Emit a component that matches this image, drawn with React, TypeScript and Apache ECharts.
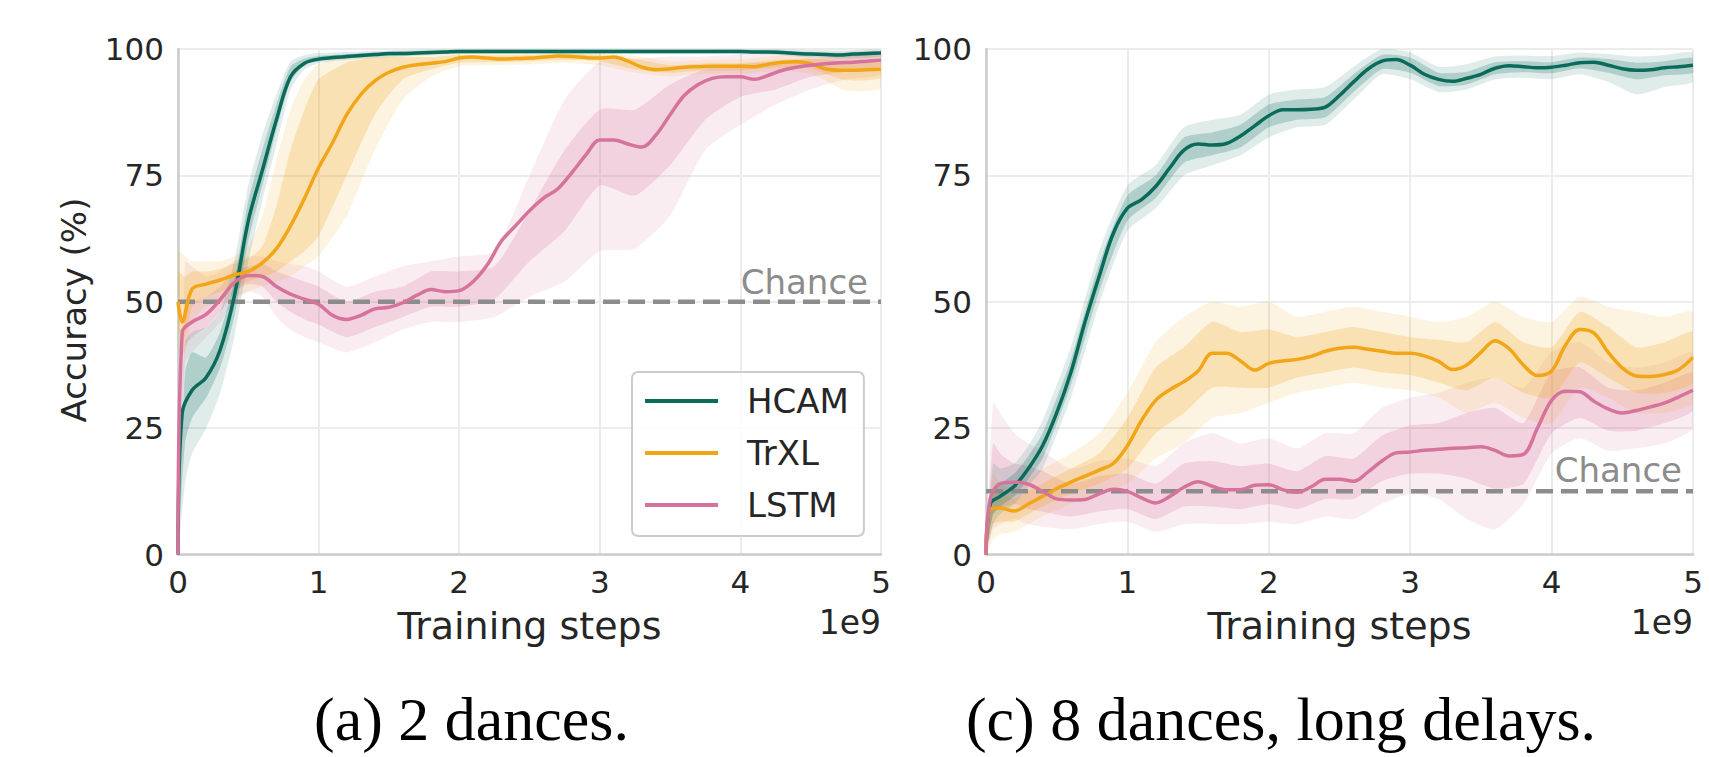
import React, { useEffect, useRef } from "react";
import * as echarts from "echarts";

// ---------- DATA ----------
const X_TICKS = [0, 1, 2, 3, 4, 5];
const Y_TICKS = [0, 25, 50, 75, 100];
const SERIES_NAMES = ["HCAM", "TrXL", "LSTM"];
const CHANCE_A = 50;
const CHANCE_C = 12.5;

// Panel (a): 2 dances — mean curves
const X_A = [0, 0.03, 0.1, 0.2, 0.3, 0.4, 0.5, 0.6, 0.7, 0.8, 0.9, 1.0, 1.1, 1.2, 1.3, 1.4, 1.5, 1.6, 1.7, 1.8, 1.9, 2.0, 2.1, 2.2, 2.3, 2.4, 2.5, 2.6, 2.7, 2.8, 2.9, 3.0, 3.1, 3.2, 3.3, 3.4, 3.5, 3.6, 3.7, 3.8, 3.9, 4.0, 4.1, 4.2, 4.3, 4.4, 4.5, 4.6, 4.7, 4.8, 4.9, 5.0];
const A_HCAM = [0, 28, 32.5, 35, 40.5, 51, 66, 76, 86, 94.5, 97.2, 98, 98.3, 98.5, 98.7, 98.9, 99.1, 99.1, 99.2, 99.3, 99.4, 99.5, 99.5, 99.5, 99.5, 99.5, 99.5, 99.5, 99.5, 99.5, 99.5, 99.5, 99.5, 99.5, 99.5, 99.5, 99.5, 99.5, 99.5, 99.5, 99.5, 99.5, 99.4, 99.4, 99.3, 99.1, 99, 98.9, 98.8, 99, 99.1, 99.2];
const A_TRXL = [50, 46, 52.5, 53.5, 54.3, 55.3, 56, 57.7, 60.5, 65, 70.5, 76.5, 81.5, 87, 91, 93.7, 95.4, 96.4, 96.9, 97.2, 97.5, 98.2, 98.4, 98.2, 98, 98.1, 98.2, 98.4, 98.6, 98.5, 98.3, 98.2, 98.4, 97.6, 96.4, 95.9, 96.1, 96.4, 96.5, 96.6, 96.6, 96.6, 96.5, 97, 97.4, 97.5, 97.1, 96.1, 95.8, 95.8, 95.9, 96];
const A_LSTM = [0, 44, 46, 47.5, 50.4, 53.8, 55.2, 55, 53, 51.5, 50.5, 49.5, 47.3, 46.5, 47.3, 48.6, 48.9, 49.8, 51.3, 52.4, 52, 52.2, 54, 57.3, 62, 65, 68, 70.5, 72.3, 75.5, 79, 82, 82, 81.2, 80.6, 83, 87, 90.8, 93, 94.2, 94.5, 94.5, 94, 94.8, 95.8, 96.4, 96.8, 97.1, 97.3, 97.4, 97.6, 97.8];

// Panel (a): confidence bands
const BX_A = [0, 0.05, 0.1, 0.2, 0.3, 0.4, 0.5, 0.6, 0.7, 0.8, 0.9, 1.0, 1.2, 1.4, 1.6, 1.8, 2.0, 2.25, 2.5, 2.75, 3.0, 3.25, 3.5, 3.75, 4.0, 4.25, 4.5, 4.75, 5.0];
const A_HCAM_IN_LO = [0, 22, 27, 31, 37, 47, 62, 73, 84, 93.5, 96.8, 97.6, 98.1, 98.5, 98.7, 99, 99.2, 99.2, 99.2, 99.2, 99.2, 99.2, 99.2, 99.2, 99.2, 99.1, 98.7, 98.5, 98.9];
const A_HCAM_IN_HI = [0, 36, 40, 39, 44, 54, 70, 80, 89, 96.5, 98.1, 98.6, 99, 99.3, 99.5, 99.7, 99.8, 99.8, 99.8, 99.8, 99.8, 99.8, 99.8, 99.8, 99.8, 99.7, 99.4, 99.2, 99.5];
const A_HCAM_OUT_LO = [0, 14, 20, 25, 32, 43, 58, 70, 81, 92, 96, 97.2, 97.8, 98.2, 98.5, 98.8, 99, 99, 99, 99, 99, 99, 99, 99, 99, 98.8, 98.3, 98.1, 98.5];
const A_HCAM_OUT_HI = [0, 42, 44, 45, 48, 58, 73, 83, 91, 97.5, 98.8, 99.2, 99.4, 99.6, 99.8, 99.9, 100, 100, 100, 100, 100, 100, 100, 100, 100, 100, 99.8, 99.7, 99.9];
const A_TRXL_IN_LO = [44, 43, 49, 51, 52, 53, 54, 55, 56, 58, 60, 63, 75, 87, 94, 96, 97.3, 97.4, 97.6, 97.8, 97.6, 96, 95.3, 95.8, 95.8, 96.3, 96.1, 93.8, 94.3];
const A_TRXL_IN_HI = [56, 55, 56, 56, 56.5, 57.5, 58.5, 61, 69, 80, 88, 94, 97.3, 98.3, 98.4, 98.4, 98.8, 98.7, 98.8, 99.1, 98.8, 98, 96.8, 97.2, 97.2, 97.8, 98.1, 97.6, 97.6];
const A_TRXL_OUT_LO = [40, 40, 46, 49, 50, 51, 52, 53, 54, 55, 57, 59, 67, 80, 90, 94.5, 96.6, 96.8, 97, 97.3, 96.8, 95.3, 94.6, 95.1, 95.1, 95.6, 95.1, 91.8, 92.3];
const A_TRXL_OUT_HI = [60, 59, 58, 58, 58, 59, 61, 67, 78, 88, 94, 97, 98.6, 99.1, 99.1, 99, 99.3, 99.3, 99.3, 99.5, 99.3, 98.6, 97.6, 97.8, 98, 98.6, 98.8, 98.8, 98.6];
const A_LSTM_IN_LO = [0, 41, 43, 45, 48, 52, 53.5, 53, 50, 48, 46.5, 45.5, 43, 45, 47, 49, 49, 50.5, 58, 64, 73, 71, 77, 86, 90.5, 92, 94.5, 95.5, 96.5];
const A_LSTM_IN_HI = [0, 50, 50, 51, 53, 56, 57, 57.5, 56, 55, 54, 53, 50, 52, 53, 56, 56, 57, 68, 80, 88, 88, 93, 96, 97, 97.5, 98, 98.5, 98.7];
const A_LSTM_OUT_LO = [0, 38, 40, 43, 46, 50, 52, 51, 47, 44.5, 43, 42, 40, 42, 44.5, 46, 46, 47, 51, 54, 60, 60.5, 67, 80, 85, 89, 92, 94, 95];
const A_LSTM_OUT_HI = [0, 58, 57, 55, 56, 58, 59, 59, 58, 57.5, 57, 56, 53, 55, 57, 58, 59, 60, 75, 90, 97.5, 98, 98.5, 98.5, 99, 99.3, 99.4, 99.5, 99.5];

// Panel (c): 8 dances, long delays — mean curves
const X_C = [0, 0.03, 0.1, 0.2, 0.3, 0.4, 0.5, 0.6, 0.7, 0.8, 0.9, 1.0, 1.1, 1.2, 1.3, 1.4, 1.5, 1.6, 1.7, 1.8, 1.9, 2.0, 2.1, 2.2, 2.3, 2.4, 2.5, 2.6, 2.7, 2.8, 2.9, 3.0, 3.1, 3.2, 3.3, 3.4, 3.5, 3.6, 3.7, 3.8, 3.9, 4.0, 4.1, 4.2, 4.3, 4.4, 4.5, 4.6, 4.7, 4.8, 4.9, 5.0];
const C_HCAM = [0, 10, 11.5, 13.5, 17, 21.5, 28, 36, 46, 55, 63.5, 68.5, 70.2, 72.8, 76.5, 80, 81.2, 81, 81.3, 82.8, 84.8, 86.8, 88, 88, 88.1, 88.5, 90.8, 93.5, 96, 97.6, 97.9, 96.8, 95, 94, 93.6, 94.2, 95, 96.2, 96.7, 96.5, 96.3, 96.4, 96.8, 97.3, 97.4, 96.8, 96.1, 95.8, 95.9, 96.3, 96.5, 96.8];
const C_TRXL = [0, 9, 9.2, 8.6, 10, 11.5, 13, 14.3, 15.5, 16.7, 18, 21.5, 26.5, 30.5, 32.6, 34.2, 36.3, 39.8, 39.8, 38.3, 36.5, 37.8, 38.3, 38.6, 39.2, 40.2, 40.8, 41, 40.6, 40.2, 39.8, 39.8, 39.3, 38.2, 36.6, 37.5, 40, 42.3, 40.7, 37.5, 35.4, 36.3, 41.5, 44.5, 43.8, 40, 36.9, 35.3, 35.2, 35.6, 36.6, 39];
const C_LSTM = [0, 11, 14, 14.3, 13.9, 12.5, 11, 10.8, 10.9, 12, 12.9, 12.5, 11.2, 10.2, 11.5, 13.3, 14.4, 13.5, 12.8, 12.8, 13.7, 13.8, 12.8, 12.3, 13.4, 14.9, 14.9, 14.5, 16.3, 18.5, 20.1, 20.3, 20.6, 20.8, 21, 21.1, 21.3, 20.6, 19.5, 19.8, 25, 30.5, 32.3, 32.2, 30.3, 28.8, 28, 28.5, 29.2, 30, 31.2, 32.5];

// Panel (c): confidence bands
const BX_C = [0, 0.05, 0.1, 0.2, 0.3, 0.4, 0.6, 0.8, 1.0, 1.2, 1.4, 1.6, 1.8, 2.0, 2.2, 2.4, 2.6, 2.8, 3.0, 3.2, 3.4, 3.6, 3.8, 4.0, 4.2, 4.4, 4.6, 4.8, 5.0];
const C_HCAM_IN_LO = [0, 8, 9.5, 11.5, 15, 19, 33.5, 52, 66, 70.5, 77.5, 79, 80.5, 84.5, 86, 86.5, 91.5, 96, 95.3, 92.7, 93, 95, 95.4, 95.2, 96.2, 95.3, 94, 94.8, 95.3];
const C_HCAM_IN_HI = [0, 13, 14, 16, 19.5, 24, 38.5, 57.5, 71, 75, 82.5, 83.5, 85, 89, 90, 90.5, 95, 98.8, 98.3, 95.3, 95.5, 97.4, 97.6, 97.4, 98.3, 98, 97.3, 97.6, 98.2];
const C_HCAM_OUT_LO = [0, 6, 8, 10, 13.5, 17, 31, 49.5, 64, 68.5, 75, 77, 79, 82.5, 84.5, 85, 90, 95, 94, 91.5, 92, 94, 94.3, 94, 95, 93.5, 91, 92.5, 93.5];
const C_HCAM_OUT_HI = [0, 18, 17, 18, 21.5, 26.5, 41, 60, 73, 77, 84.5, 86, 87, 91, 92, 92.5, 96.5, 100, 99.3, 96.5, 97, 98.5, 98.7, 98.6, 99.3, 99, 98.5, 98.8, 99.3];
const C_TRXL_IN_LO = [0, 6, 6.5, 6.5, 8, 9.5, 12, 14, 17, 24, 28, 33, 33, 33, 35, 36, 37, 36, 35.5, 34, 32.5, 35, 32, 31, 38, 35, 32, 32, 34];
const C_TRXL_IN_HI = [0, 13, 12, 11, 12.5, 14, 17, 20, 27, 37, 41, 46, 44, 44.5, 43, 44, 45, 44, 43, 42.5, 42, 46, 42, 41, 48, 45, 41, 42, 44];
const C_TRXL_OUT_LO = [0, 3, 4, 4.5, 6, 7.5, 10, 12, 14, 19, 22, 27, 28, 30, 32, 33, 34, 33, 32.5, 31, 28, 30, 27, 26, 33, 31, 28, 28, 30];
const C_TRXL_OUT_HI = [0, 16, 14, 13, 15, 17, 20, 24, 32, 42, 47, 50, 49, 50, 47, 48, 49, 48, 47, 46, 47, 50, 47, 46, 51, 49, 48, 47, 48];
const C_LSTM_IN_LO = [0, 8, 9, 10, 9, 8.5, 7.5, 8.5, 9, 7, 9.5, 9.5, 9, 10, 9, 11, 11, 14.5, 16, 16, 15, 13, 14, 24, 27, 24.5, 24.5, 26, 28.5];
const C_LSTM_IN_HI = [0, 22, 20, 18, 17.5, 16.5, 14, 15.5, 16, 14, 18, 18.5, 17.5, 18, 16.5, 19.5, 19, 23.5, 25.5, 26, 28, 29, 26, 36, 37, 33, 32.5, 34, 36];
const C_LSTM_OUT_LO = [0, 5, 6, 7, 6, 5.5, 5, 6, 6.5, 4.5, 6, 6, 6, 6.5, 6, 7.5, 7, 10, 12, 11, 7, 5, 10, 20, 23, 20.5, 21, 22, 25];
const C_LSTM_OUT_HI = [0, 30, 28, 24, 22, 20.5, 17, 18.5, 19, 17.5, 22, 24, 22, 23, 21, 24, 24, 29, 31, 32, 34, 35, 33, 40, 42, 38, 37, 38, 40];

// ---------- STYLE ----------
const COLORS: Record<string, string> = { HCAM: "#0b6b5b", TrXL: "#f2a516", LSTM: "#d6739d" };
const SANS = "DejaVu Sans";
const SERIF = "Liberation Serif";
const INK = "#262626";
const CHANCE_COLOR = "#8c8c8c";

function band(name: string, gi: number, xs: number[], lo: number[], hi: number[], color: string, opacity: number) {
  return {
    type: "custom",
    name,
    xAxisIndex: gi,
    yAxisIndex: gi,
    silent: true,
    clip: true,
    z: 1,
    data: [[xs[0], lo[0]]],
    encode: { x: 0, y: 1 },
    renderItem: (_p: any, api: any) => {
      const up = xs.map((x, i) => api.coord([x, hi[i]]));
      const dn = xs.map((x, i) => api.coord([x, lo[i]])).reverse();
      return {
        type: "polygon",
        shape: { points: up.concat(dn), smooth: 0.2 },
        style: { fill: color, opacity },
      };
    },
  };
}

function line(name: string, gi: number, xs: number[], ys: number[]) {
  const color = COLORS[name];
  return {
    type: "line",
    name,
    xAxisIndex: gi,
    yAxisIndex: gi,
    data: xs.map((x, i) => [x, ys[i]]),
    symbol: "none",
    showSymbol: false,
    smooth: 0.35,
    clip: false,
    silent: true,
    z: 4,
    lineStyle: { color, width: 3.5 },
    itemStyle: { color },
  };
}

function chance(gi: number, value: number) {
  return {
    type: "line",
    name: "Chance",
    xAxisIndex: gi,
    yAxisIndex: gi,
    data: [[X_TICKS[0], value], [X_TICKS[X_TICKS.length - 1], value]],
    symbol: "none",
    silent: true,
    z: 3,
    lineStyle: { color: CHANCE_COLOR, width: 4.5, type: [17, 8] },
  };
}

function xAxis(gi: number) {
  return {
    type: "value",
    gridIndex: gi,
    min: X_TICKS[0],
    max: X_TICKS[X_TICKS.length - 1],
    interval: 1,
    axisLine: { show: true, onZero: false, lineStyle: { color: "#cccccc", width: 2.5 } },
    axisTick: { show: false },
    splitLine: { show: true, lineStyle: { color: "#ececec", width: 2 } },
    axisLabel: { fontSize: 31, fontFamily: SANS, color: INK, margin: 12 },
  };
}

function yAxis(gi: number) {
  return {
    type: "value",
    gridIndex: gi,
    min: Y_TICKS[0],
    max: Y_TICKS[Y_TICKS.length - 1],
    interval: 25,
    axisLine: { show: true, onZero: false, lineStyle: { color: "#cccccc", width: 2.5 } },
    axisTick: { show: false },
    splitLine: { show: true, lineStyle: { color: "#ececec", width: 2 } },
    axisLabel: { fontSize: 31, fontFamily: SANS, color: INK, margin: 14 },
  };
}

const OUT_A = 0.13;
const IN_A = 0.22;

export default function App() {
  const ref = useRef<HTMLDivElement>(null);

  useEffect(() => {
    if (!ref.current) return;
    const chart = echarts.init(ref.current, null, { renderer: "svg" });

    const series: any[] = [
      band("A_LSTM_out", 0, BX_A, A_LSTM_OUT_LO, A_LSTM_OUT_HI, COLORS.LSTM, OUT_A),
      band("A_LSTM_in", 0, BX_A, A_LSTM_IN_LO, A_LSTM_IN_HI, COLORS.LSTM, IN_A),
      band("A_TrXL_out", 0, BX_A, A_TRXL_OUT_LO, A_TRXL_OUT_HI, COLORS.TrXL, OUT_A),
      band("A_TrXL_in", 0, BX_A, A_TRXL_IN_LO, A_TRXL_IN_HI, COLORS.TrXL, IN_A),
      band("A_HCAM_out", 0, BX_A, A_HCAM_OUT_LO, A_HCAM_OUT_HI, COLORS.HCAM, OUT_A),
      band("A_HCAM_in", 0, BX_A, A_HCAM_IN_LO, A_HCAM_IN_HI, COLORS.HCAM, IN_A),
      band("C_LSTM_out", 1, BX_C, C_LSTM_OUT_LO, C_LSTM_OUT_HI, COLORS.LSTM, OUT_A),
      band("C_LSTM_in", 1, BX_C, C_LSTM_IN_LO, C_LSTM_IN_HI, COLORS.LSTM, IN_A),
      band("C_TrXL_out", 1, BX_C, C_TRXL_OUT_LO, C_TRXL_OUT_HI, COLORS.TrXL, OUT_A),
      band("C_TrXL_in", 1, BX_C, C_TRXL_IN_LO, C_TRXL_IN_HI, COLORS.TrXL, IN_A),
      band("C_HCAM_out", 1, BX_C, C_HCAM_OUT_LO, C_HCAM_OUT_HI, COLORS.HCAM, OUT_A),
      band("C_HCAM_in", 1, BX_C, C_HCAM_IN_LO, C_HCAM_IN_HI, COLORS.HCAM, IN_A),
      chance(0, CHANCE_A),
      chance(1, CHANCE_C),
      line("HCAM", 0, X_A, A_HCAM),
      line("TrXL", 0, X_A, A_TRXL),
      line("LSTM", 0, X_A, A_LSTM),
      line("HCAM", 1, X_C, C_HCAM),
      line("TrXL", 1, X_C, C_TRXL),
      line("LSTM", 1, X_C, C_LSTM),
    ];

    chart.setOption({
      animation: false,
      backgroundColor: "#ffffff",
      grid: [
        { left: 178, top: 49, width: 703, height: 505.5 },
        { left: 986, top: 49, width: 707, height: 505.5 },
      ],
      xAxis: [xAxis(0), xAxis(1)],
      yAxis: [yAxis(0), yAxis(1)],
      legend: {
        show: true,
        data: SERIES_NAMES,
        orient: "vertical",
        left: 632,
        top: 372,
        padding: [12, 15, 14, 13],
        itemWidth: 73,
        itemHeight: 4,
        itemGap: 18,
        icon: "rect",
        selectedMode: false,
        backgroundColor: "rgba(255,255,255,0.85)",
        borderColor: "#cccccc",
        borderWidth: 2,
        borderRadius: 6,
        textStyle: { fontSize: 34, fontFamily: SANS, color: INK, lineHeight: 34, padding: [0, 0, 0, 24] },
      },
      series,
    });

    const pa = chart.convertToPixel({ xAxisIndex: 0, yAxisIndex: 0 } as any, [X_TICKS[5], CHANCE_A]) as number[];
    const pc = chart.convertToPixel({ xAxisIndex: 1, yAxisIndex: 1 } as any, [X_TICKS[5], CHANCE_C]) as number[];

    const txt = (text: string, x: number, y: number, size: number, family: string, fill: string, align: string, rotation = 0) => ({
      type: "text",
      x,
      y,
      rotation,
      silent: true,
      style: { text, fontSize: size, fontFamily: family, fill, align, verticalAlign: "middle" },
    });

    chart.setOption({
      graphic: [
        txt("Chance", pa[0] - 13, pa[1] - 20, 34, SANS, CHANCE_COLOR, "right"),
        txt("Chance", pc[0] - 11, pc[1] - 21, 34, SANS, CHANCE_COLOR, "right"),
        txt("Accuracy (%)", 74, 310, 34, SANS, INK, "center", Math.PI / 2),
        txt("Training steps", 529.5, 626, 38, SANS, INK, "center"),
        txt("Training steps", 1339.5, 626, 38, SANS, INK, "center"),
        txt("1e9", 881, 622, 33, SANS, INK, "right"),
        txt("1e9", 1693, 622, 33, SANS, INK, "right"),
        txt("(a) 2 dances.", 471.5, 719, 62, SERIF, "#000000", "center"),
        txt("(c) 8 dances, long delays.", 1281, 719, 62, SERIF, "#000000", "center"),
      ],
    });

    return () => chart.dispose();
  }, []);

  return (
    <div
      ref={ref}
      style={{ position: "fixed", left: 0, top: 0, width: 1709, height: 757, background: "#ffffff" }}
    />
  );
}
